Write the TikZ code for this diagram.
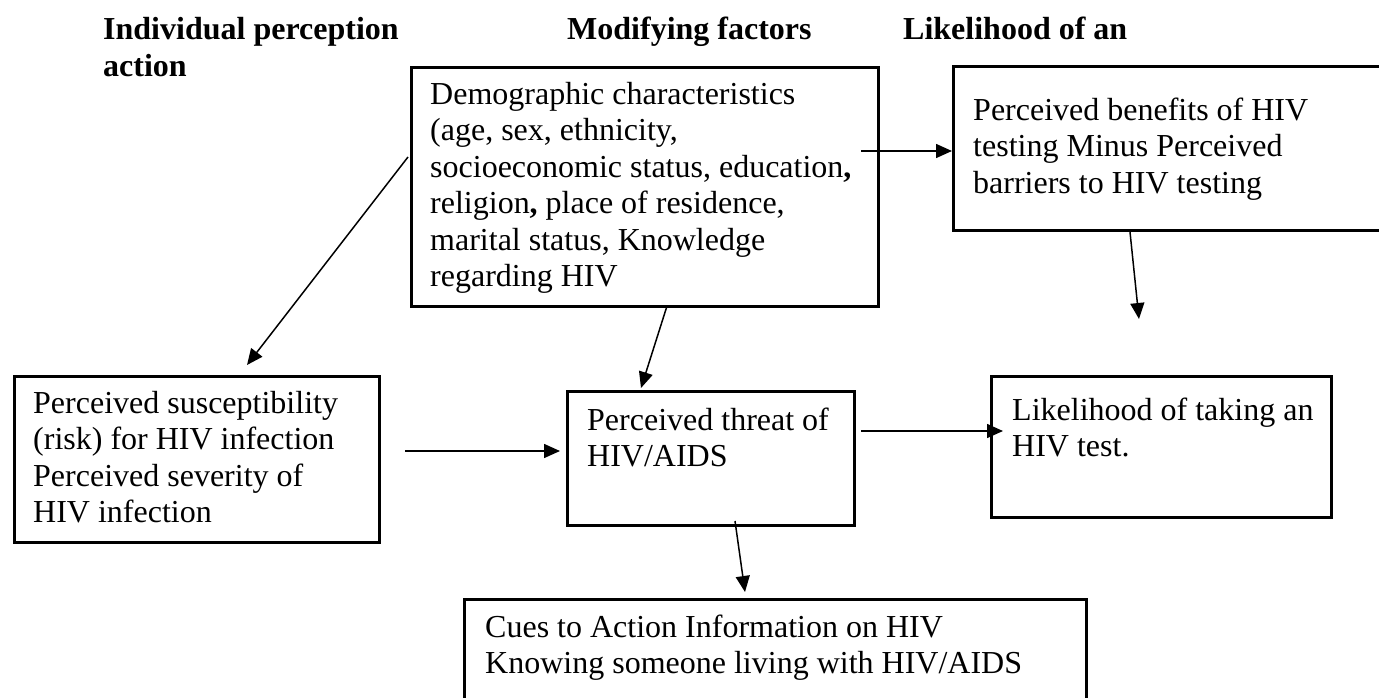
\documentclass[tikz,border=0pt]{standalone}
\usepackage{fontspec}
\setmainfont{Liberation Serif}
\usetikzlibrary{arrows.meta}
\tikzset{
  box/.style={draw=black, line width=2.6pt, inner sep=0pt, anchor=north west},
  txt/.style={anchor=north west, inner sep=0pt, align=left, font=\fontsize{32}{36.5}\selectfont},
  hdr/.style={txt, font=\fontsize{32}{37}\selectfont\bfseries},
  arr/.style={line width=1.5pt, -{Triangle[length=16pt,width=14pt]}},
}
\begin{document}
\begin{tikzpicture}[x=1pt,y=-1pt]
\useasboundingbox (0,0) rectangle (1379,698);
% headers
\node[hdr] (h1) at (103,13.45) {\strut Individual perception\\action};
\node[hdr] (h2) at (567,13.45) {\strut Modifying factors};
\node[hdr] (h3) at (903,13.45) {\strut Likelihood of an};
% boxes
\node[box, minimum width=467pt, minimum height=239pt] (dem) at (410,66) {};
\node[box, minimum width=440pt, minimum height=164pt] (ben) at (952,65) {};
\node[box, minimum width=365pt, minimum height=166pt] (sus) at (13,375) {};
\node[box, minimum width=287pt, minimum height=134pt] (thr) at (566,390) {};
\node[box, minimum width=340pt, minimum height=141pt] (lik) at (990,375) {};
\node[box, minimum width=622pt, minimum height=120pt] (cue) at (463,598) {};
% texts
\node[txt] (demt) at (430,78.45) {\strut Demographic characteristics\\(age, sex, ethnicity,\\socioeconomic status, education\textbf{,}\\religion\textbf{,} place of residence,\\marital status, Knowledge\\regarding HIV};
\node[txt] (bent) at (973,94.45) {\strut Perceived benefits of HIV\\testing Minus Perceived\\barriers to HIV testing};
\node[txt] (sust) at (33,387.45) {\strut Perceived susceptibility\\(risk) for HIV infection\\Perceived severity of\\HIV infection};
\node[txt] (thrt) at (587,404.45) {\strut Perceived threat of\\HIV/AIDS};
\node[txt] (likt) at (1012,394.45) {\strut Likelihood of taking an\\HIV test.};
\node[txt] (cuet) at (485,611.45) {\strut Cues to Action Information on HIV\\Knowing someone living with HIV/AIDS};
% connector ends
\coordinate (a1s) at (408,157);  \coordinate (a1e) at (247,365);
\coordinate (a2s) at (861,151);  \coordinate (a2e) at (952,151);
\coordinate (a3s) at (1130,232); \coordinate (a3e) at (1139,319);
\coordinate (a4s) at (667,306);  \coordinate (a4e) at (641,388);
\coordinate (a5s) at (405,451);  \coordinate (a5e) at (560,451);
\coordinate (a6s) at (861,431);  \coordinate (a6e) at (1003,431);
\coordinate (a7s) at (735,521);  \coordinate (a7e) at (745,592);
\draw[arr] (a1s) -- (a1e);
\draw[arr] (a2s) -- (a2e);
\draw[arr] (a3s) -- (a3e);
\draw[arr] (a4s) -- (a4e);
\draw[arr] (a5s) -- (a5e);
\draw[arr] (a6s) -- (a6e);
\draw[arr] (a7s) -- (a7e);
\end{tikzpicture}
\end{document}
